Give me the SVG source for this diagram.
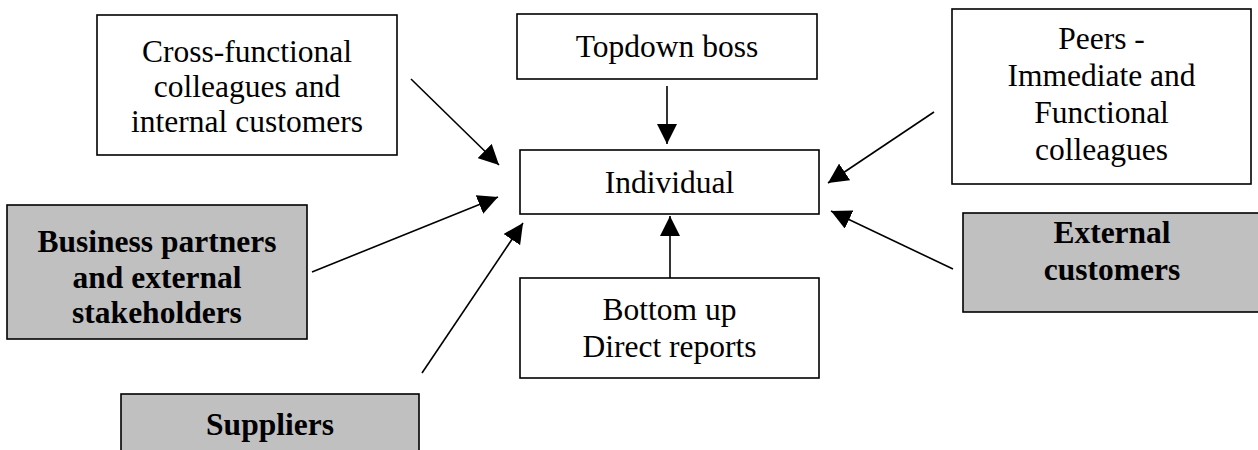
<svg xmlns="http://www.w3.org/2000/svg" width="1258" height="450" viewBox="0 0 1258 450">
<style>
.box{fill:#fff;stroke:#000;stroke-width:1.6}
.gbox{fill:#c0c0c0;stroke:#000;stroke-width:1.6}
.t{font-family:"Liberation Serif","Times New Roman",serif;font-size:31.5px;text-anchor:middle;fill:#000}
.b{font-weight:bold}
.c{stroke:#000;stroke-width:1.6;fill:none;marker-end:url(#ah)}
</style>
<defs>
<marker id="ah" markerUnits="userSpaceOnUse" markerWidth="20" markerHeight="20" viewBox="0 0 20 20" refX="20" refY="10" orient="auto">
<path d="M0,0 L20,10 L0,20 z" fill="#000"/>
</marker>
</defs>
<rect width="1258" height="450" fill="#fff"/>
<g id="cross-functional">
<rect class="box" x="97" y="15" width="300" height="140"/>
<text class="t" x="247" y="62">Cross-functional</text>
<text class="t" x="247" y="97">colleagues and</text>
<text class="t" x="247" y="132">internal customers</text>
</g>
<g id="topdown">
<rect class="box" x="517" y="14" width="300" height="65"/>
<text class="t" x="667" y="57">Topdown boss</text>
</g>
<g id="peers">
<rect class="box" x="952" y="9" width="299" height="175"/>
<text class="t" x="1101.5" y="49">Peers -</text>
<text class="t" x="1101.5" y="86">Immediate and</text>
<text class="t" x="1101.5" y="123">Functional</text>
<text class="t" x="1101.5" y="160">colleagues</text>
</g>
<g id="individual">
<rect class="box" x="520" y="150" width="299" height="64"/>
<text class="t" x="669.5" y="193">Individual</text>
</g>
<g id="business">
<rect class="gbox" x="7" y="205" width="300" height="134"/>
<text class="t b" x="157" y="252">Business partners</text>
<text class="t b" x="157" y="288">and external</text>
<text class="t b" x="157" y="323">stakeholders</text>
</g>
<g id="external">
<rect class="gbox" x="963" y="213" width="300" height="99"/>
<text class="t b" x="1112" y="243">External</text>
<text class="t b" x="1112" y="280">customers</text>
</g>
<g id="bottomup">
<rect class="box" x="520" y="278" width="299" height="100"/>
<text class="t" x="669.5" y="320">Bottom up</text>
<text class="t" x="669.5" y="357">Direct reports</text>
</g>
<g id="suppliers">
<rect class="gbox" x="121" y="394" width="298" height="70"/>
<text class="t b" x="270" y="435">Suppliers</text>
</g>
<g id="connectors">
<line class="c" x1="411" y1="79" x2="499" y2="165"/>
<line class="c" x1="667" y1="86" x2="667" y2="144"/>
<line class="c" x1="934" y1="112" x2="828" y2="183"/>
<line class="c" x1="312" y1="272" x2="498" y2="197"/>
<line class="c" x1="422" y1="373" x2="523" y2="223"/>
<line class="c" x1="670" y1="278" x2="670" y2="216"/>
<line class="c" x1="953" y1="269" x2="831" y2="211"/>
</g>
</svg>
